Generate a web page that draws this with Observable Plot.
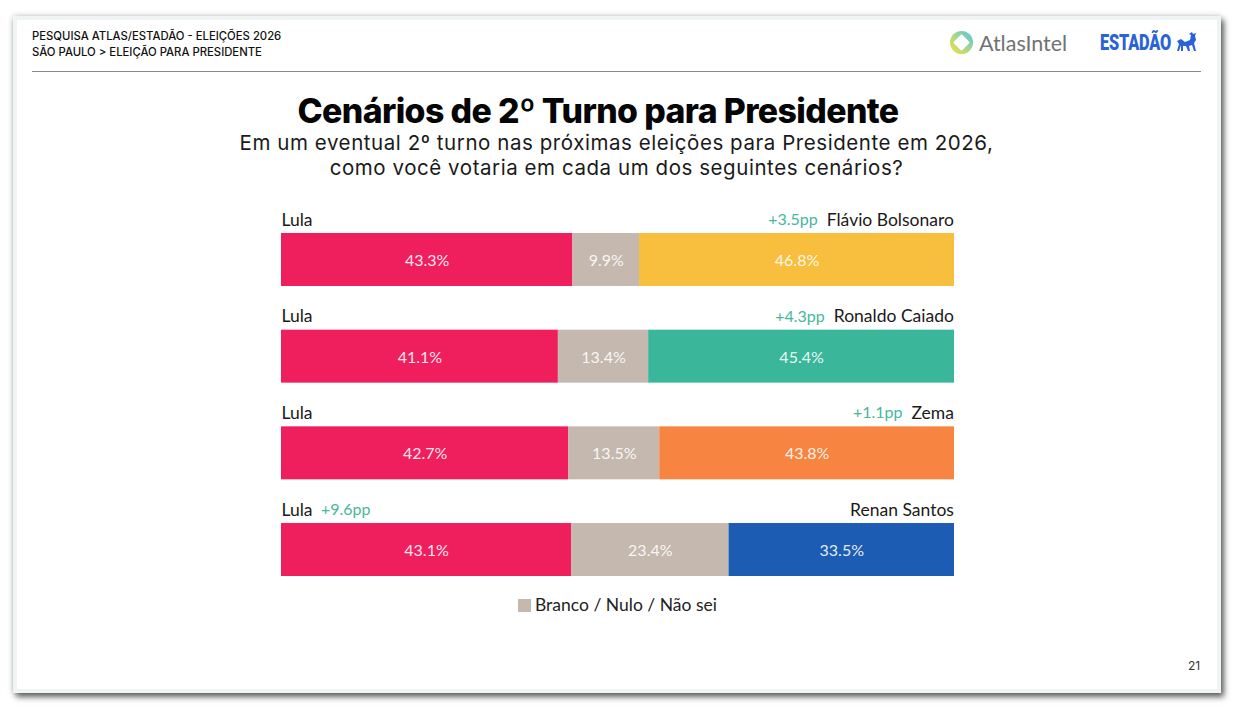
<!DOCTYPE html>
<html lang="pt-BR"><head><meta charset="utf-8">
<script src="https://cdn.jsdelivr.net/npm/d3@7"></script>
<script src="https://cdn.jsdelivr.net/npm/@observablehq/plot@0.6"></script>
<style>
html,body{margin:0;padding:0;background:#fff;width:1248px;height:710px;overflow:hidden}
#card{position:absolute;left:13px;top:16px;width:1200px;height:669px;background:#fff;border:4px solid #f1f4f4;box-shadow:3px 4px 6px rgba(0,0,0,.6),0 0 6px rgba(0,0,0,.2)}
.t{position:absolute;white-space:nowrap;color:#111}
#head{left:32px;top:28px;font:500 11.3px/16px Inter,sans-serif;color:#111;letter-spacing:0}
#rule{position:absolute;left:32px;top:71px;width:1169px;height:1px;background:#8a8a8a}
#title{left:0;width:1196px;text-align:center;top:89px;font:800 33.8px/44px Inter,sans-serif;letter-spacing:-.6px;color:#050505}
#sub{left:0;width:1233px;text-align:center;top:131px;font:400 20.5px/24.5px Inter,sans-serif;letter-spacing:.56px;color:#1a1a1a}
#atlas{left:979px;top:29px;font:400 21.5px/28px Lato,sans-serif;color:#6f7275}
#est{left:1100px;top:29px;font:900 22px/28px Roboto,sans-serif;color:#2a63d8;transform:scaleX(.74);transform-origin:left center;letter-spacing:-.2px}
#page{left:1188px;top:659px;font:400 12px/14px Inter,sans-serif;color:#333}
#chart{position:absolute;left:0;top:190px}
#legend{position:absolute;left:518px;top:594px;display:flex;align-items:center;font:400 17.5px/22px Lato,sans-serif;color:#222}
#legend i{display:block;width:13px;height:13px;margin-right:4px}
svg.logo{position:absolute}
</style></head><body>
<div id="card"></div>
<div class="t" id="head">PESQUISA ATLAS/ESTADÃO - ELEIÇÕES 2026<br>SÃO PAULO &gt; ELEIÇÃO PARA PRESIDENTE</div>
<div id="rule"></div>
<svg class="logo" style="left:949px;top:30px" width="25" height="25" viewBox="0 0 25 25">
<defs><linearGradient id="g" x1="0" y1="1" x2="1" y2="0"><stop offset="0" stop-color="#f3e23a"/><stop offset=".5" stop-color="#a8d88a"/><stop offset="1" stop-color="#4cc3e8"/></linearGradient></defs>
<circle cx="12.5" cy="12.5" r="11.5" fill="url(#g)"/><path d="M12.5 5.5L19.5 12.5L12.5 19.5L5.5 12.5Z" fill="#fff" stroke="#fff" stroke-width="2" stroke-linejoin="round"/></svg>
<div class="t" id="atlas">AtlasIntel</div>
<div class="t" id="est">ESTADÃO</div>
<svg class="logo" style="left:1176px;top:31px" width="22" height="22" viewBox="0 0 22 22"><path d="M1 10L5 8L9 11L14 9L15 4L13 3L16 1L17 3L20 2L19 5L20 9L18 12L20 20H18L16 14L13 15L14 20H12L10 15L7 15L7 20H5L5 14L3 20H1L3 13Z" fill="#2a63d8"/></svg>
<div class="t" id="title">Cenários de 2º Turno para Presidente</div>
<div class="t" id="sub">Em um eventual 2º turno nas próximas eleições para Presidente em 2026,<br>como você votaria em cada um dos seguintes cenários?</div>
<div id="chart"></div>
<div id="legend"><i style="background:#c5b8ae"></i><span>Branco / Nulo / Não sei</span></div>
<div class="t" id="page">21</div>
<script>
const opponents = ["Flávio Bolsonaro", "Ronaldo Caiado", "Zema", "Renan Santos"];
const lulaValues = [43.3, 41.1, 42.7, 43.1];
const blankValues = [9.9, 13.4, 13.5, 23.4];
const opponentValues = [46.8, 45.4, 43.8, 33.5];
const margins = ["+3.5pp", "+4.3pp", "+1.1pp", "+9.6pp"];
const marginLeaders = ["opponent", "opponent", "opponent", "Lula"];
const colorDomain = ["Lula", "Branco", ...opponents];
const colorRange = ["#ef1f5e", "#c5b8ae", "#f8be3d", "#3ab79a", "#f78440", "#1c5cb3"];

const rows = opponents.flatMap((o, i) => [
  {row: o, key: "Lula", value: lulaValues[i]},
  {row: o, key: "Branco", value: blankValues[i]},
  {row: o, key: o, value: opponentValues[i]}
]);
const ctx = document.createElement("canvas").getContext("2d");
ctx.font = "17.5px Lato";
const gap = 9;
const marginRows = opponents.map((o, i) => marginLeaders[i] === "Lula"
  ? {row: o, x: 0, anchor: "start", text: margins[i], dx: ctx.measureText("Lula").width + gap}
  : {row: o, x: 1, anchor: "end", text: margins[i], dx: -(ctx.measureText(o).width + gap)});
const labelOpts = {fontFamily: "Lato", fontSize: 17.5, dy: -40, fill: "#1a1a1a"};
const stackOpts = {x: "value", y: "row", z: "key", offset: "normalize", order: null};

const plot = Plot.plot({
  width: 1248, height: 400,
  marginLeft: 281, marginRight: 294, marginTop: 0, marginBottom: 0,
  x: {axis: null, domain: [0, 1]},
  y: {axis: null, domain: opponents, range: [43, 386], paddingInner: 0.452, paddingOuter: 0, round: false},
  color: {domain: colorDomain, range: colorRange},
  marks: [
    Plot.barX(rows, Plot.stackX({...stackOpts, fill: "key"})),
    Plot.text(rows, Plot.stackX({...stackOpts, text: d => d.value.toFixed(1) + "%", fill: "#fff", fillOpacity: 0.9, fontFamily: "Lato", fontSize: 16, dy: 1})),
    Plot.text(opponents, {...labelOpts, x: () => 0, y: d => d, text: () => "Lula", textAnchor: "start"}),
    Plot.text(opponents, {...labelOpts, x: () => 1, y: d => d, text: d => d, textAnchor: "end", dx: -0.6}),
    ...marginRows.map(m => Plot.text([m], {x: "x", y: "row", text: "text", textAnchor: m.anchor, dx: m.dx - 0.6, dy: -40, fontFamily: "Lato", fontSize: 16, fill: "#46b79a"}))
  ]
});
plot.style.background = "transparent";
document.getElementById("chart").append(plot);
</script>
</body></html>
